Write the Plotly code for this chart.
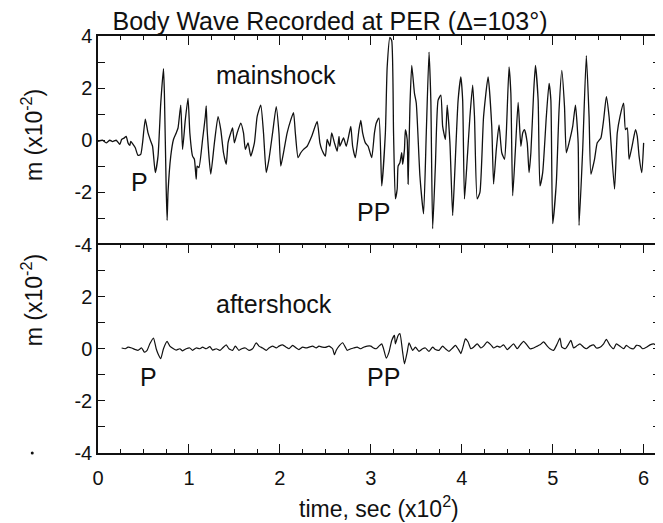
import plotly.graph_objects as go
from plotly.subplots import make_subplots

# ---- data (time in x10^2 s, amplitude in x10^-2 m) ----
t_main = [0.00, 0.05, 0.09, 0.13, 0.16, 0.20, 0.24, 0.26, 0.29, 0.31, 0.33, 0.35, 0.36, 0.38, 0.41,
          0.44, 0.47, 0.49, 0.52, 0.55, 0.58, 0.60, 0.63, 0.66, 0.69, 0.72, 0.73, 0.75, 0.76, 0.77,
          0.80, 0.83, 0.86, 0.88, 0.91, 0.93, 0.96, 0.99, 1.01, 1.04, 1.06, 1.08, 1.09, 1.11, 1.15,
          1.18, 1.19, 1.20, 1.24, 1.28, 1.32, 1.35, 1.38, 1.41, 1.43, 1.46, 1.48, 1.50, 1.53, 1.57,
          1.60, 1.62, 1.65, 1.68, 1.72, 1.75, 1.79, 1.82, 1.85, 1.88, 1.92, 1.96, 1.99, 2.01, 2.04,
          2.08, 2.12, 2.15, 2.17, 2.20, 2.23, 2.26, 2.30, 2.35, 2.41, 2.44, 2.46, 2.50, 2.52, 2.55,
          2.57, 2.60, 2.63, 2.65, 2.66, 2.70, 2.73, 2.76, 2.78, 2.80, 2.83, 2.87, 2.89, 2.91, 2.94,
          2.97, 3.01, 3.04, 3.06, 3.09, 3.12, 3.16, 3.18, 3.21, 3.23, 3.25, 3.27, 3.29, 3.30, 3.32,
          3.34, 3.35, 3.37, 3.38, 3.40, 3.41, 3.43, 3.45, 3.48, 3.50, 3.54, 3.58, 3.61, 3.64, 3.66,
          3.68, 3.71, 3.74, 3.77, 3.79, 3.82, 3.84, 3.87, 3.90, 3.92, 3.96, 3.99, 4.01, 4.03, 4.06,
          4.09, 4.12, 4.14, 4.17, 4.20, 4.24, 4.29, 4.33, 4.35, 4.38, 4.41, 4.44, 4.47, 4.49, 4.52,
          4.54, 4.56, 4.59, 4.62, 4.65, 4.67, 4.69, 4.72, 4.74, 4.76, 4.79, 4.81, 4.84, 4.86, 4.89,
          4.93, 4.96, 4.98, 5.00, 5.04, 5.07, 5.10, 5.13, 5.15, 5.18, 5.22, 5.25, 5.28, 5.29, 5.33,
          5.37, 5.40, 5.42, 5.46, 5.49, 5.53, 5.56, 5.59, 5.62, 5.68, 5.71, 5.74, 5.78, 5.80, 5.82,
          5.84, 5.88, 5.91, 5.93, 5.95, 5.98, 6.00]
a_main = [-0.04, 0.00, -0.10, 0.00, -0.05, 0.00, -0.16, 0.03, 0.09, 0.15, -0.10, -0.20, -0.04, -0.13, -0.29,
          -0.58, -0.54, -0.10, 0.81, 0.28, -0.04, -0.23, -1.24, -0.61, 1.42, 2.75, 1.80, -1.87, -3.08, -2.00,
          -0.61, 0.03, 0.28, 0.47, 1.35, -0.35, 0.78, 1.61, 0.28, -0.61, -0.73, -1.49, -0.99, -1.05, 0.03,
          0.91, 1.32, 0.41, -1.30, -0.10, 0.91, 0.41, -0.48, -0.92, -0.10, 0.28, 0.47, -0.10, 0.28, 0.66,
          0.28, -0.35, -0.10, -0.61, -0.10, 0.91, 1.35, 0.28, -1.24, -0.73, 0.28, 1.29, 0.28, -0.99, -0.48,
          0.28, 0.78, 1.06, 0.28, -0.67, -0.48, -0.35, -0.23, 0.15, 0.72, -0.10, -0.35, -0.61, 0.03, -0.23,
          0.28, -0.10, -0.42, 0.15, -0.23, 0.09, -0.23, 0.22, 0.53, -0.23, -0.67, 0.41, 0.76, 0.28, -0.10,
          -0.23, -0.67, 0.28, 0.66, 0.85, -1.75, 0.28, 2.81, 3.95, 3.82, 0.28, -2.25, -1.87, -0.99, -0.86,
          -0.48, -0.92, -0.35, 0.41, 0.03, -1.68, 1.29, 2.87, 1.80, 1.42, -1.37, -2.82, 0.28, 3.38, 1.54,
          -3.39, -0.99, 1.54, 1.73, 0.53, 0.03, 1.35, -0.10, -2.89, -1.49, 1.54, 2.43, 1.54, -2.25, -0.73,
          0.91, 2.11, 0.91, -2.25, -2.00, 0.91, 2.43, 0.53, -1.68, -0.35, 0.59, -0.48, -0.73, 0.28, 2.81,
          1.80, -2.13, -0.35, 1.45, -0.23, 0.28, 0.41, -0.10, -1.24, -0.48, 1.80, 2.87, 1.54, -1.75, -1.24,
          0.91, 2.18, 1.54, -3.20, -1.62, 1.16, 2.68, 1.29, -0.48, -0.10, 0.53, 1.35, -0.10, -3.27, -0.35,
          3.25, 0.91, -1.30, -0.73, -0.10, 0.09, 0.78, 1.67, 0.91, -1.87, 0.28, 0.91, 1.42, 0.41, 0.47,
          -0.73, -0.10, 0.41, 0.15, -0.61, -1.24, -0.10]

t_after = [0.26, 0.30, 0.33, 0.37, 0.41, 0.44, 0.48, 0.51, 0.54, 0.57, 0.61, 0.64, 0.66, 0.69, 0.72,
           0.76, 0.79, 0.83, 0.86, 0.90, 0.93, 0.97, 1.01, 1.04, 1.08, 1.12, 1.15, 1.19, 1.23, 1.26,
           1.30, 1.34, 1.37, 1.41, 1.44, 1.48, 1.51, 1.55, 1.58, 1.62, 1.66, 1.70, 1.74, 1.77, 1.81,
           1.85, 1.88, 1.92, 1.96, 1.99, 2.03, 2.07, 2.10, 2.14, 2.18, 2.21, 2.25, 2.29, 2.32, 2.36,
           2.40, 2.43, 2.47, 2.50, 2.54, 2.58, 2.60, 2.62, 2.65, 2.69, 2.72, 2.74, 2.78, 2.81, 2.85,
           2.89, 2.92, 2.96, 3.00, 3.03, 3.06, 3.09, 3.12, 3.14, 3.17, 3.20, 3.23, 3.26, 3.27, 3.30,
           3.32, 3.35, 3.37, 3.40, 3.42, 3.46, 3.49, 3.53, 3.57, 3.60, 3.64, 3.68, 3.71, 3.75, 3.79,
           3.82, 3.86, 3.90, 3.93, 3.97, 3.99, 4.02, 4.04, 4.07, 4.10, 4.13, 4.17, 4.21, 4.24, 4.28,
           4.32, 4.35, 4.39, 4.42, 4.46, 4.50, 4.53, 4.57, 4.61, 4.64, 4.68, 4.72, 4.75, 4.79, 4.83,
           4.86, 4.90, 4.94, 4.97, 5.01, 5.05, 5.08, 5.10, 5.14, 5.17, 5.20, 5.23, 5.26, 5.30, 5.34,
           5.37, 5.41, 5.45, 5.48, 5.52, 5.56, 5.59, 5.63, 5.67, 5.70, 5.74, 5.78, 5.81, 5.85, 5.89,
           5.92, 5.96, 5.99, 6.03, 6.07, 6.11, 6.14]
a_after = [0.03, 0.00, 0.06, 0.03, -0.03, -0.06, 0.03, -0.13, -0.06, 0.19, 0.41, 0.00, -0.19, -0.38, 0.00,
           0.28, 0.10, 0.00, -0.05, 0.00, -0.08, 0.00, 0.03, -0.06, 0.03, 0.00, 0.06, 0.00, 0.08, -0.05,
           0.00, -0.06, 0.03, 0.15, 0.00, -0.06, 0.10, -0.06, 0.00, 0.03, -0.06, 0.00, 0.23, 0.10, 0.03,
           -0.06, 0.03, 0.10, 0.03, 0.10, 0.15, 0.06, 0.00, 0.13, 0.03, -0.03, 0.06, 0.03, 0.06, 0.10,
           0.03, 0.10, 0.06, 0.05, 0.10, 0.00, -0.23, -0.06, 0.10, 0.23, 0.06, -0.06, 0.00, 0.03, 0.06,
           0.00, 0.06, 0.10, 0.10, 0.03, 0.00, 0.10, 0.19, 0.00, -0.36, -0.13, 0.32, 0.51, 0.19, 0.51,
           0.58, -0.13, -0.58, -0.13, 0.23, -0.06, 0.06, -0.10, 0.00, 0.03, -0.10, 0.06, -0.03, -0.06, 0.10,
           0.00, -0.10, 0.03, 0.13, -0.06, -0.19, 0.15, 0.38, 0.26, 0.00, 0.06, 0.19, 0.03, 0.10, 0.26,
           0.15, 0.03, 0.10, 0.06, 0.15, -0.03, 0.06, 0.19, 0.00, 0.13, 0.28, 0.13, 0.00, 0.03, 0.10,
           0.15, 0.26, 0.10, 0.00, -0.06, 0.19, 0.41, 0.06, 0.00, 0.15, 0.32, 0.03, 0.10, 0.19, 0.06,
           0.00, 0.10, 0.15, 0.03, 0.06, 0.19, 0.36, 0.13, 0.00, 0.19, 0.10, 0.00, 0.13, 0.03, 0.00,
           0.13, 0.10, 0.00, 0.06, 0.15, 0.19, 0.13]

x_ticks = [0, 1, 2, 3, 4, 5, 6]
y_top_vals = [-4, -3, -2, -1, 0, 1, 2, 3, 4]
y_top_text = ["-4", "", "-2", "", "0", "", "2", "", "4"]
y_bot_vals = [-4, -3, -2, -1, 0, 1, 2, 3]
y_bot_text = ["-4", "", "-2", "", "0", "", "2", ""]

FONT = "Liberation Sans, Arial, Helvetica, sans-serif"
INK = "#111111"

fig = make_subplots(rows=2, cols=1, shared_xaxes=True, vertical_spacing=0)
fig.add_trace(go.Scatter(x=t_main, y=a_main, mode="lines",
                         line=dict(color=INK, width=1.3, shape="spline", smoothing=0.5),
                         showlegend=False), row=1, col=1)
fig.add_trace(go.Scatter(x=t_after, y=a_after, mode="lines",
                         line=dict(color=INK, width=1.2, shape="spline", smoothing=0.5),
                         showlegend=False), row=2, col=1)

xcommon = dict(range=[0, 6.18], tickvals=x_ticks, ticks="inside", ticklen=9, tickwidth=1.2,
               tickcolor=INK, showline=True, linecolor=INK, linewidth=1.5,
               showgrid=False, zeroline=False,
               minor=dict(dtick=0.25, tick0=0, ticks="inside", ticklen=4, tickcolor=INK, tickwidth=1,
                          showgrid=False),
               tickfont=dict(family=FONT, size=20, color=INK))
fig.update_xaxes(**xcommon)
# top panel: only the top frame line (with ticks); the boundary comes from the lower panel
fig.update_xaxes(side="top", mirror=False, showticklabels=False, row=1, col=1)
fig.update_xaxes(mirror="ticks", showticklabels=True, ticklabelstandoff=6, row=2, col=1)

ycommon = dict(range=[-4, 4], ticks="inside", ticklen=7, tickwidth=1.2, tickcolor=INK,
               showline=True, linecolor=INK, linewidth=1.5, mirror="ticks",
               showgrid=False, zeroline=False, ticklabelstandoff=0,
               tickfont=dict(family=FONT, size=20, color=INK))
fig.update_yaxes(**ycommon)
fig.update_yaxes(tickvals=y_top_vals, ticktext=y_top_text, row=1, col=1)
fig.update_yaxes(tickvals=y_bot_vals, ticktext=y_bot_text, row=2, col=1)

ann_font = dict(family=FONT, size=25, color=INK)
fig.add_annotation(x=1.96, y=2.5, xref="x", yref="y", text="mainshock", showarrow=False, font=ann_font)
fig.add_annotation(x=0.46, y=-1.6, xref="x", yref="y", text="P", showarrow=False, font=ann_font)
fig.add_annotation(x=3.03, y=-2.75, xref="x", yref="y", text="PP", showarrow=False, font=ann_font)
fig.add_annotation(x=1.93, y=1.7, xref="x2", yref="y2", text="aftershock", showarrow=False, font=ann_font)
fig.add_annotation(x=0.55, y=-1.1, xref="x2", yref="y2", text="P", showarrow=False, font=ann_font)
fig.add_annotation(x=3.14, y=-1.1, xref="x2", yref="y2", text="PP", showarrow=False, font=ann_font)

# axis titles
tfont = dict(family=FONT, size=23, color=INK)
fig.add_annotation(x=-0.117, y=0.763, xref="paper", yref="paper", text="m (x10<sup>-2</sup>)",
                   textangle=-90, showarrow=False, font=tfont, xanchor="center", yanchor="middle")
fig.add_annotation(x=-0.117, y=0.367, xref="paper", yref="paper", text="m (x10<sup>-2</sup>)",
                   textangle=-90, showarrow=False, font=tfont, xanchor="center", yanchor="middle")
fig.add_annotation(x=0.5, y=-0.13, xref="paper", yref="paper", text="time, sec (x10<sup>2</sup>)",
                   showarrow=False, font=tfont, xanchor="center", yanchor="middle")
# small speck left of the lower panel
fig.add_shape(type="circle", xref="paper", yref="paper", xsizemode="pixel", ysizemode="pixel",
              xanchor=-0.117, yanchor=0.0, x0=-1.5, x1=1.5, y0=-1.5, y1=1.5,
              fillcolor=INK, line=dict(width=0))

fig.update_layout(
    width=655, height=515,
    margin=dict(l=90, r=1, t=28, b=70),
    paper_bgcolor="white", plot_bgcolor="white",
    title=dict(text="Body Wave Recorded at PER (\u0394=103\u00b0)", x=322/655, xanchor="center",
               y=1 - 13/515, yanchor="middle", font=dict(family=FONT, size=25, color=INK)),
    showlegend=False,
)

fig.write_html("out.html")
